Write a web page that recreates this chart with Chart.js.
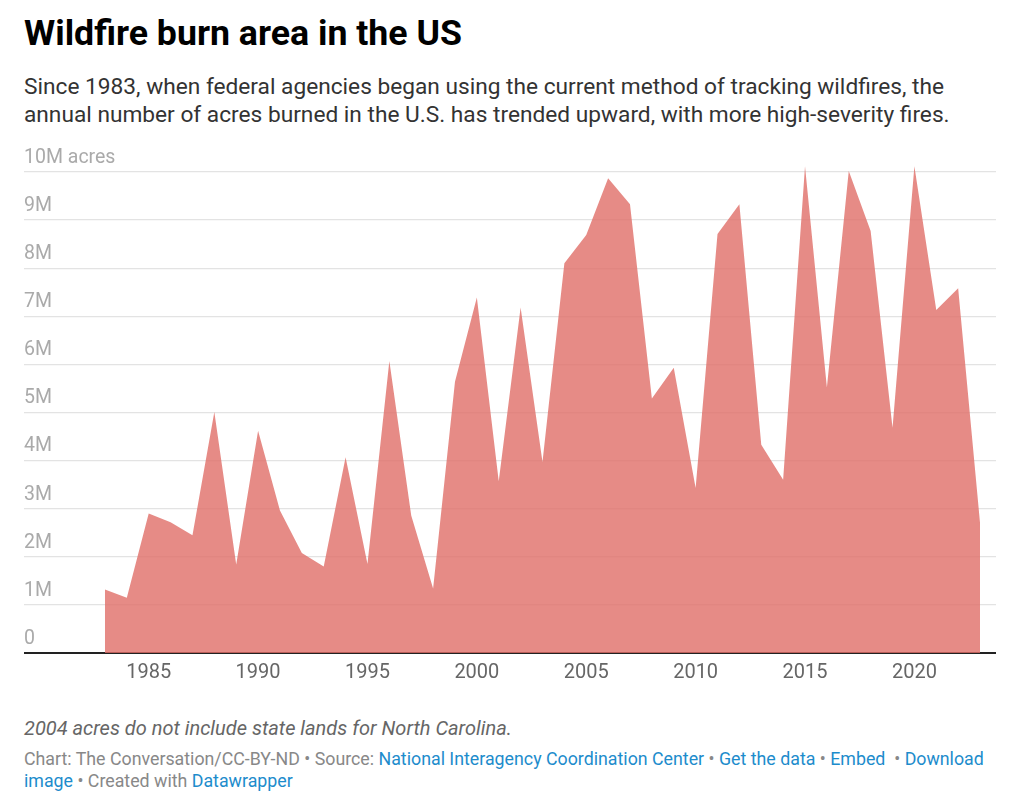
<!DOCTYPE html>
<html>
<head>
<meta charset="utf-8">
<script src="https://cdn.jsdelivr.net/npm/chart.js@4"></script>
<style>
  body { margin: 0; background: #fff; font-family: Roboto, "Noto Sans", sans-serif; }
  #page { position: relative; width: 1024px; height: 810px; }
  h1 { position: absolute; left: 24px; top: 12px; margin: 0; font-size: 35.7px; font-weight: 700; color: #000; }
  .sub { position: absolute; left: 24px; top: 73px; margin: 0; font-size: 22.7px; line-height: 28px; color: #333; white-space: nowrap; }
  #wrap { position: absolute; left: 0; top: 140px; width: 1024px; height: 560px; }
  .note { position: absolute; left: 24px; top: 716px; font-size: 20px; font-style: italic; color: #666; }
  .src { position: absolute; left: 24px; top: 748px; font-size: 17.8px; line-height: 22px; color: #888; white-space: nowrap; }
  .src a { color: #1d8ccc; text-decoration: none; }
</style>
</head>
<body>
<div id="page">
  <h1>Wildfire burn area in the US</h1>
  <div class="sub">Since 1983, when federal agencies began using the current method of tracking wildfires, the<br>annual number of acres burned in the U.S. has trended upward, with more high-severity fires.</div>
  <div id="wrap"><canvas id="myChart"></canvas></div>
  <div class="note">2004 acres do not include state lands for North Carolina.</div>
  <div class="src">Chart: The Conversation/CC-BY-ND • Source: <a>National Interagency Coordination Center</a> • <a>Get the data</a> • <a>Embed</a> &nbsp;• <a>Download</a><br><a>image</a> • Created with <a>Datawrapper</a></div>
</div>
<script>
// acres burned per year, millions
const years = [1983,1984,1985,1986,1987,1988,1989,1990,1991,1992,1993,1994,1995,1996,1997,1998,1999,2000,2001,2002,
  2003,2004,2005,2006,2007,2008,2009,2010,2011,2012,2013,2014,2015,2016,2017,2018,2019,2020,2021,2022,2023]
const acres = [1.32,1.15,2.90,2.72,2.45,5.01,1.84,4.62,2.96,2.08,1.80,4.07,1.85,6.07,2.86,1.34,5.64,7.39,3.57,7.18,
  3.97,8.10,8.69,9.87,9.33,5.29,5.93,3.43,8.71,9.33,4.33,3.60,10.12,5.52,10.02,8.77,4.68,10.12,7.13,7.58,2.70]
const xTicks = [1985,1990,1995,2000,2005,2010,2015,2020]
const yTicks = [0,1,2,3,4,5,6,7,8,9,10]
const yTickLabels = ['0','1M','2M','3M','4M','5M','6M','7M','8M','9M','10M acres']

const points = years.map((y,i) => ({x: y, y: acres[i]}))

const data = {
    datasets: [
        {
            data: points,
            fill: 'origin',
            backgroundColor: 'rgba(224,110,104,0.8)',
            borderWidth: 0,
            pointRadius: 0,
            tension: 0
        }
    ]
}

const config = {
    type: 'line',
    data: data,
    options: {
        responsive: true,
        maintainAspectRatio: false,
        animation: false,
        layout: { padding: { left: 24, right: 28, top: 3, bottom: 7 } },
        plugins: {
            legend: { display: false },
            tooltip: { enabled: false }
        },
        scales: {
            x: {
                type: 'linear',
                min: 1979.3,
                max: 2023.73,
                afterBuildTicks: s => { s.ticks = xTicks.map(v => ({value: v})) },
                grid: { display: false, drawTicks: false },
                border: { display: false },
                ticks: {
                    padding: 8,
                    color: '#666',
                    font: { family: 'Roboto', size: 20 },
                    callback: v => String(v),
                    maxRotation: 0
                }
            },
            y: {
                min: 0,
                max: 10.42,
                afterBuildTicks: s => { s.ticks = yTicks.map(v => ({value: v})) },
                grid: {
                    drawTicks: false,
                    color: c => c.tick && c.tick.value === 0 ? '#222' : '#e3e3e3',
                    lineWidth: c => c.tick && c.tick.value === 0 ? 2 : 1.2
                },
                border: { display: false },
                ticks: {
                    mirror: true,
                    padding: 0,
                    labelOffset: -14,
                    color: '#aaa',
                    font: { family: 'Roboto', size: 19.5 },
                    callback: (v) => yTickLabels[yTicks.indexOf(v)]
                }
            }
        }
    }
}

var myChart = new Chart(document.getElementById('myChart'), config)
</script>
</body>
</html>
